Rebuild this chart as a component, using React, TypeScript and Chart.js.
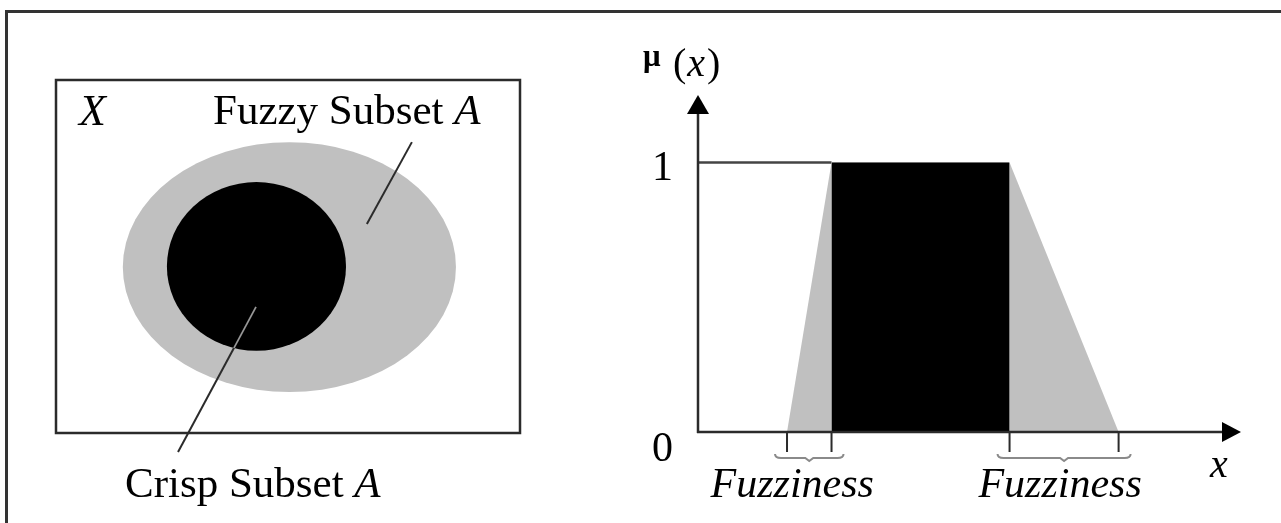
import React, { useEffect, useRef } from 'react';
import { Chart, registerables } from 'chart.js';

Chart.register(...registerables);

// ---------- Right panel: membership function μ(x) ----------
const fuzzyX = [2, 3, 7, 9.45];          // support start, core start, core end, support end
const fuzzyMu = [0, 1, 1, 0];
const crispX = [3, 3, 7, 7];
const crispMu = [0, 1, 1, 0];
const oneLineX = [0, 3];
const oneLineMu = [1, 1];
const yTickValues = [0, 1];
const yTickLabels = ['0', '1'];
const fuzzinessSpans = [[2, 3], [7, 9.45]];
const fuzzinessLabels = ['Fuzziness', 'Fuzziness'];
const xAxisMax = 12.2;
const yAxisMax = 1.25;

// ---------- Left panel: universe X with fuzzy / crisp subsets (0..100 units) ----------
const vennNames = ['Fuzzy Subset ', 'Crisp Subset '];
const vennCx = [50.3, 43.2];
const vennCy = [47.0, 47.2];
const vennRx = [35.9, 19.3];
const vennRy = [35.4, 23.9];
const pointerFromX = [76.7, 43.1];
const pointerFromY = [82.4, 35.7];
const pointerToX = [67.0, 26.3];
const pointerToY = [59.2, -5.4];

const SERIF = "'Liberation Serif', 'Times New Roman', serif";
const GRAY = '#c0c0c0';
const INK = '#2b2b2b';

function drawMixed(ctx: CanvasRenderingContext2D, normal: string, italic: string, x: number, y: number, size: number) {
  ctx.font = `${size}px ${SERIF}`;
  ctx.fillText(normal, x, y);
  const w = ctx.measureText(normal).width;
  ctx.font = `italic ${size}px ${SERIF}`;
  ctx.fillText(italic, x + w, y);
}

const vennPlugin = {
  id: 'vennPlugin',
  afterDraw(chart: any) {
    const { ctx, chartArea } = chart;
    const xs = chart.scales.x;
    const ys = chart.scales.y;
    const colors = [GRAY, '#000000'];
    ctx.save();
    for (let i = 0; i < vennCx.length; i++) {
      const cx = xs.getPixelForValue(vennCx[i]);
      const cy = ys.getPixelForValue(vennCy[i]);
      const rx = Math.abs(xs.getPixelForValue(vennCx[i] + vennRx[i]) - cx);
      const ry = Math.abs(ys.getPixelForValue(vennCy[i] + vennRy[i]) - cy);
      ctx.beginPath();
      ctx.ellipse(cx, cy, rx, ry, 0, 0, Math.PI * 2);
      ctx.fillStyle = colors[i];
      ctx.fill();
    }
    ctx.strokeStyle = INK;
    ctx.lineWidth = 2.5;
    ctx.strokeRect(chartArea.left, chartArea.top, chartArea.right - chartArea.left, chartArea.bottom - chartArea.top);
    for (let i = 0; i < pointerFromX.length; i++) {
      const x1 = xs.getPixelForValue(pointerFromX[i]);
      const y1 = ys.getPixelForValue(pointerFromY[i]);
      const x2 = xs.getPixelForValue(pointerToX[i]);
      const y2 = ys.getPixelForValue(pointerToY[i]);
      ctx.beginPath();
      ctx.moveTo(x1, y1);
      ctx.lineTo(x2, y2);
      ctx.strokeStyle = INK;
      ctx.lineWidth = 2;
      ctx.stroke();
      if (i === 1) {
        ctx.save();
        const cx = xs.getPixelForValue(vennCx[1]);
        const cy = ys.getPixelForValue(vennCy[1]);
        const rx = Math.abs(xs.getPixelForValue(vennCx[1] + vennRx[1]) - cx);
        const ry = Math.abs(ys.getPixelForValue(vennCy[1] + vennRy[1]) - cy);
        ctx.beginPath();
        ctx.ellipse(cx, cy, rx, ry, 0, 0, Math.PI * 2);
        ctx.clip();
        ctx.beginPath();
        ctx.moveTo(x1, y1);
        ctx.lineTo(x2, y2);
        ctx.strokeStyle = '#9a9a9a';
        ctx.lineWidth = 1.5;
        ctx.stroke();
        ctx.restore();
      }
    }
    ctx.fillStyle = '#000';
    ctx.textBaseline = 'alphabetic';
    ctx.textAlign = 'left';
    ctx.font = `italic 44px ${SERIF}`;
    ctx.fillText('X', chartArea.left + 23, chartArea.top + 45);
    drawMixed(ctx, vennNames[0], 'A', 213, 124, 43);
    drawMixed(ctx, vennNames[1], 'A', 125, 497, 43);
    ctx.restore();
  },
};

const axesPlugin = {
  id: 'axesPlugin',
  afterDatasetsDraw(chart: any) {
    const { ctx } = chart;
    const xs = chart.scales.x;
    const ys = chart.scales.y;
    const x0 = xs.getPixelForValue(0);
    const y0 = ys.getPixelForValue(0);
    const yTop = ys.getPixelForValue(yAxisMax);
    const xEnd = xs.getPixelForValue(xAxisMax);
    ctx.save();
    ctx.strokeStyle = INK;
    ctx.fillStyle = '#000';
    ctx.lineWidth = 2.5;
    ctx.beginPath();
    ctx.moveTo(x0, y0 + 1);
    ctx.lineTo(x0, yTop + 12);
    ctx.stroke();
    ctx.beginPath();
    ctx.moveTo(x0, yTop);
    ctx.lineTo(x0 - 11, yTop + 19);
    ctx.lineTo(x0 + 11, yTop + 19);
    ctx.closePath();
    ctx.fill();
    ctx.beginPath();
    ctx.moveTo(x0 - 1, y0);
    ctx.lineTo(xEnd - 12, y0);
    ctx.stroke();
    ctx.beginPath();
    ctx.moveTo(xEnd, y0);
    ctx.lineTo(xEnd - 19, y0 - 10);
    ctx.lineTo(xEnd - 19, y0 + 10);
    ctx.closePath();
    ctx.fill();
    ctx.font = `42px ${SERIF}`;
    ctx.textAlign = 'right';
    ctx.textBaseline = 'alphabetic';
    for (let i = 0; i < yTickValues.length; i++) {
      const py = ys.getPixelForValue(yTickValues[i]);
      ctx.fillText(yTickLabels[i], x0 - 25, py + (yTickValues[i] === 0 ? 29 : 18));
    }
    const labelShift = [-17, -4];
    for (let i = 0; i < fuzzinessSpans.length; i++) {
      const p1 = xs.getPixelForValue(fuzzinessSpans[i][0]);
      const p2 = xs.getPixelForValue(fuzzinessSpans[i][1]);
      const mid = (p1 + p2) / 2;
      ctx.strokeStyle = INK;
      ctx.lineWidth = 2;
      ctx.beginPath();
      ctx.moveTo(p1, y0);
      ctx.lineTo(p1, y0 + 20);
      ctx.moveTo(p2, y0);
      ctx.lineTo(p2, y0 + 20);
      ctx.stroke();
      ctx.strokeStyle = '#8a8a8a';
      ctx.lineWidth = 2;
      ctx.beginPath();
      ctx.moveTo(p1 - 12, y0 + 22);
      ctx.quadraticCurveTo(p1 - 12, y0 + 26, p1 - 6, y0 + 26);
      ctx.lineTo(mid - 4, y0 + 26);
      ctx.lineTo(mid, y0 + 29);
      ctx.lineTo(mid + 4, y0 + 26);
      ctx.lineTo(p2 + 6, y0 + 26);
      ctx.quadraticCurveTo(p2 + 12, y0 + 26, p2 + 12, y0 + 22);
      ctx.stroke();
      ctx.fillStyle = '#000';
      ctx.font = `italic 42px ${SERIF}`;
      ctx.textAlign = 'center';
      ctx.fillText(fuzzinessLabels[i], mid + labelShift[i], y0 + 65);
    }
    ctx.textAlign = 'left';
    ctx.font = `italic 40px ${SERIF}`;
    ctx.fillText('x', xEnd - 31, y0 + 45);
    let tx = x0 - 55;
    ctx.font = `bold 31px ${SERIF}`;
    ctx.fillText('μ', tx, 66);
    tx = x0 - 25;
    ctx.font = `40px ${SERIF}`;
    ctx.fillText('(', tx, 76);
    tx += ctx.measureText('(').width + 1;
    ctx.font = `italic 40px ${SERIF}`;
    ctx.fillText('x', tx, 76);
    tx += ctx.measureText('x').width + 2;
    ctx.font = `40px ${SERIF}`;
    ctx.fillText(')', tx, 76);
    ctx.restore();
  },
};

export default function App() {
  const leftRef = useRef<HTMLCanvasElement>(null);
  const rightRef = useRef<HTMLCanvasElement>(null);

  useEffect(() => {
    document.body.style.margin = '0';
    const left = new Chart(leftRef.current as HTMLCanvasElement, {
      type: 'scatter',
      data: {
        datasets: [
          {
            data: vennCx.map((x, i) => ({ x, y: vennCy[i] })),
            pointRadius: 0,
            showLine: false,
          },
        ],
      },
      options: {
        animation: false,
        responsive: false,
        devicePixelRatio: 1,
        layout: { padding: { left: 56, right: 120, top: 80, bottom: 90 } },
        scales: {
          x: { type: 'linear', min: 0, max: 100, display: false },
          y: { type: 'linear', min: 0, max: 100, display: false },
        },
        plugins: { legend: { display: false }, tooltip: { enabled: false } },
      },
      plugins: [vennPlugin],
    });

    const right = new Chart(rightRef.current as HTMLCanvasElement, {
      type: 'line',
      data: {
        datasets: [
          {
            label: 'Crisp',
            data: crispX.map((x, i) => ({ x, y: crispMu[i] })),
            backgroundColor: '#000000',
            borderColor: '#000000',
            borderWidth: 0,
            fill: 'origin',
            pointRadius: 0,
            tension: 0,
          },
          {
            label: 'Fuzzy',
            data: fuzzyX.map((x, i) => ({ x, y: fuzzyMu[i] })),
            backgroundColor: GRAY,
            borderColor: GRAY,
            borderWidth: 0,
            fill: 'origin',
            pointRadius: 0,
            tension: 0,
          },
          {
            label: 'One',
            data: oneLineX.map((x, i) => ({ x, y: oneLineMu[i] })),
            borderColor: '#444444',
            borderWidth: 2.5,
            fill: false,
            pointRadius: 0,
            tension: 0,
          },
        ],
      },
      options: {
        animation: false,
        responsive: false,
        devicePixelRatio: 1,
        layout: { padding: { left: 58, right: 40, top: 95, bottom: 91 } },
        scales: {
          x: { type: 'linear', min: 0, max: xAxisMax, display: false },
          y: { type: 'linear', min: 0, max: yAxisMax, display: false },
        },
        plugins: { legend: { display: false }, tooltip: { enabled: false } },
      },
      plugins: [axesPlugin],
    });

    return () => {
      left.destroy();
      right.destroy();
    };
  }, []);

  return (
    <div style={{ position: 'relative', width: 1281, height: 523, background: '#ffffff', overflow: 'hidden' }}>
      <div
        style={{
          position: 'absolute',
          left: 5,
          top: 10,
          right: 0,
          bottom: 0,
          borderTop: '3px solid #333',
          borderLeft: '3px solid #333',
        }}
      />
      <canvas
        ref={leftRef}
        width={640}
        height={523}
        style={{ position: 'absolute', left: 0, top: 0, width: 640, height: 523 }}
      />
      <canvas
        ref={rightRef}
        width={641}
        height={523}
        style={{ position: 'absolute', left: 640, top: 0, width: 641, height: 523 }}
      />
    </div>
  );
}
